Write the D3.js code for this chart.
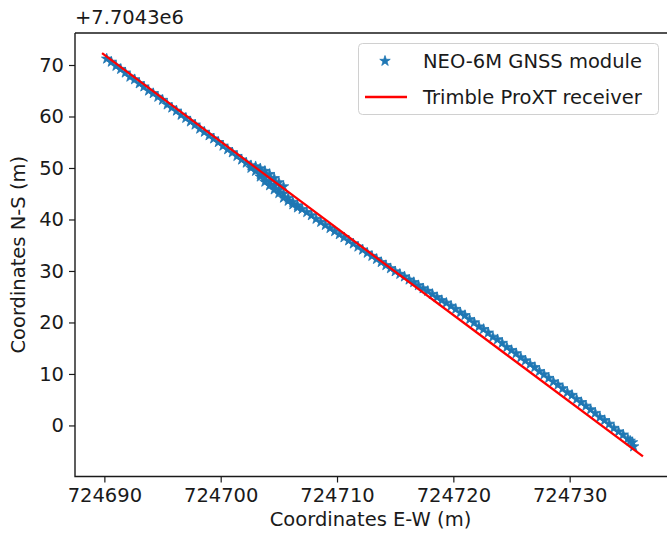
<!DOCTYPE html>
<html><head><meta charset="utf-8">
<script src="https://cdn.jsdelivr.net/npm/d3@7"></script>
<style>body{margin:0;background:#fff}svg{display:block}text{font-family:"DejaVu Sans",sans-serif;fill:#1a1a1a}</style>
</head><body><svg id="c" width="667" height="533"></svg>
<script>
// NEO-6M GNSS module track (E-W, N-S minus 7704300 m)
const neoE = [724690.2,724690.6,724691.0,724691.4,724691.8,724692.2,724692.6,724693.0,724693.4,724693.8,
724694.2,724694.6,724695.0,724695.4,724695.8,724696.2,724696.6,724697.0,724697.4,724697.8,
724698.2,724698.6,724699.0,724699.4,724699.8,724700.2,724700.6,724701.0,724701.4,724701.8,
724702.2,724702.6,724702.6,724703.0,724703.0,724703.4,724703.4,724703.4,724703.8,724703.8,724703.8,
724704.2,724704.2,724704.2,724704.6,724704.6,724704.6,724705.0,724705.0,724705.0,
724705.4,724705.4,724705.4,724705.8,724705.8,724706.2,724706.2,724706.6,724706.6,724707.0,
724707.4,724707.8,724708.2,724708.6,724709.0,724709.4,724709.8,724710.2,724710.6,724711.0,
724711.4,724711.8,724712.2,724712.6,724713.0,724713.4,724713.8,724714.2,724714.6,724715.0,
724715.4,724715.8,724716.2,724716.6,724717.0,724717.4,724717.8,724718.2,724718.6,724719.0,
724719.4,724719.8,724720.2,724720.6,724721.0,724721.4,724721.8,724722.2,724722.6,724723.0,
724723.4,724723.8,724724.2,724724.6,724725.0,724725.4,724725.8,724726.2,724726.6,724727.0,
724727.4,724727.8,724728.2,724728.6,724729.0,724729.4,724729.8,724730.2,724730.6,724731.0,
724731.4,724731.8,724732.2,724732.6,724733.0,724733.4,724733.8,724734.2,724734.6,724735.0,
724735.2,724735.4,724735.5];
const neoN = [71.2,70.6,69.8,69.2,68.5,67.7,67.2,66.4,65.8,65.0,
64.5,63.8,63.2,62.3,61.7,61.1,60.3,59.7,59.0,58.4,
57.6,57.0,56.3,55.7,55.0,54.3,53.6,53.0,52.3,51.6,
51.0,50.5,50.0,50.3,49.4,49.9,48.8,48.3,49.4,48.2,47.3,
48.8,47.5,46.6,48.0,46.7,45.8,47.2,45.9,45.1,
46.4,45.0,44.2,44.2,43.6,43.4,42.9,42.7,42.3,42.0,
41.4,40.8,40.1,39.5,38.9,38.3,37.7,37.1,36.5,35.9,
35.3,34.7,34.1,33.5,32.9,32.3,31.7,31.1,30.5,29.9,
29.4,28.9,28.3,27.8,27.2,26.6,26.1,25.5,24.9,24.3,
23.8,23.2,22.6,21.9,21.4,20.6,20.0,19.2,18.7,18.0,
17.2,16.7,16.0,15.2,14.6,14.0,13.2,12.6,11.9,11.3,
10.5,9.9,9.2,8.5,7.9,7.2,6.4,5.9,5.1,4.5,
3.8,3.1,2.4,1.6,1.0,0.3,-0.5,-1.2,-1.8,-2.6,
-3.0,-3.3,-4.1];
// Trimble ProXT receiver reference line
const trimbleE = [724689.8, 724736.3];
const trimbleN = [72.3, -6.0];
const xTicks = [724690, 724700, 724710, 724720, 724730];
const yTicks = [0, 10, 20, 30, 40, 50, 60, 70];
const offsetLabel = "+7.7043e6";
const seriesNames = ["NEO-6M GNSS module", "Trimble ProXT receiver"];
const xTitle = "Coordinates E-W (m)";
const yTitle = "Coordinates N-S (m)";

const svg = d3.select("#c");
const L = 75, R = 670, T = 33, B = 476.5;
const x = d3.scaleLinear().domain([724687.475, 724738.625]).range([L, R]);
const y = d3.scaleLinear().domain([-9.915, 76.215]).range([B, T]);
const fs = "19.5px";
const blue = "#1f77b4", red = "#ff0000";

const star = d3.symbol().type(d3.symbolStar).size(34);
svg.append("g").selectAll("path").data(neoE.map((e, i) => [e, neoN[i]])).join("path")
  .attr("d", star).attr("transform", d => `translate(${x(d[0])},${y(d[1])})`)
  .attr("fill", blue).attr("stroke", blue).attr("stroke-width", 0.8);

svg.append("path").datum(trimbleE.map((e, i) => [e, trimbleN[i]]))
  .attr("d", d3.line().x(d => x(d[0])).y(d => y(d[1])))
  .attr("fill", "none").attr("stroke", red).attr("stroke-width", 2.3);

// axes
const xa = svg.append("g").attr("transform", `translate(0,${B})`)
  .call(d3.axisBottom(x).tickValues(xTicks).tickFormat(d3.format("d")).tickSize(6).tickPadding(5));
const ya = svg.append("g").attr("transform", `translate(${L},0)`)
  .call(d3.axisLeft(y).tickValues(yTicks).tickFormat(d3.format("d")).tickSize(6).tickPadding(5));
[xa, ya].forEach(a => {
  a.select(".domain").remove();
  a.selectAll("line").attr("stroke", "#1a1a1a").attr("stroke-width", 1.2);
  a.selectAll("text").style("font-size", fs).attr("fill", "#1a1a1a").style("font-family", "DejaVu Sans");
});
xa.selectAll("text").attr("dy", "0.72em").attr("y", 11);
// spines
svg.append("path").attr("d", `M${L},${T}H${R}M${L},${T}V${B}H${R}`)
  .attr("fill", "none").attr("stroke", "#1a1a1a").attr("stroke-width", 1.4);

svg.append("text").attr("x", L).attr("y", 24).style("font-size", fs).text(offsetLabel);
svg.append("text").attr("x", (L + R) / 2 - 2).attr("y", 526).attr("text-anchor", "middle").style("font-size", fs).text(xTitle);
svg.append("text").attr("transform", `translate(25,${(T + B) / 2}) rotate(-90)`).attr("text-anchor", "middle").style("font-size", fs).text(yTitle);

// legend
const lg = svg.append("g");
lg.append("rect").attr("x", 358.5).attr("y", 43.5).attr("width", 300).attr("height", 71).attr("rx", 4)
  .attr("fill", "#fff").attr("fill-opacity", 0.8).attr("stroke", "#d0d0d0").attr("stroke-width", 1);
lg.append("path").attr("d", d3.symbol().type(d3.symbolStar).size(34)).attr("transform", "translate(385,61)")
  .attr("fill", blue).attr("stroke", blue).attr("stroke-width", 0.8);
lg.append("line").attr("x1", 365).attr("x2", 407).attr("y1", 97).attr("y2", 97).attr("stroke", red).attr("stroke-width", 2.3);
lg.selectAll("text.l").data(seriesNames).join("text").attr("class", "l")
  .attr("x", 423).attr("y", (d, i) => 68 + i * 36).style("font-size", fs).text(d => d);
</script></body></html>
